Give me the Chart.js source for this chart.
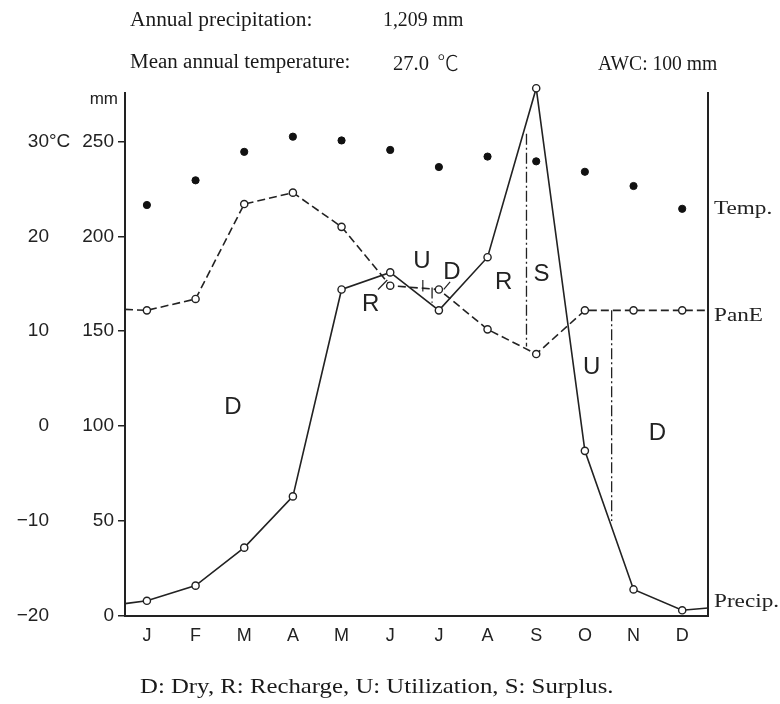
<!DOCTYPE html>
<html>
<head>
<meta charset="utf-8">
<script src="https://cdn.jsdelivr.net/npm/chart.js@4.4.1/dist/chart.umd.min.js"></script>
<style>
    html, body { margin: 0; padding: 0; background: #fff; }
    #wrap { position: relative; width: 780px; height: 704px; overflow: hidden; }
    #chart { position: absolute; left: 0; top: 0; }
    .note {
        position: absolute;
        font-family: "Liberation Serif", "Times New Roman", serif;
        font-size: 20px;
        line-height: 23px;
        color: #1a1a1a;
        white-space: nowrap;
        transform-origin: left center;
        transform: scaleX(1.03);
    }
    .cjk { font-family: "Noto Sans CJK JP", sans-serif; font-size: 21px; line-height: 23px; margin-left: 8px; font-weight: 300; }
    .foot { font-size: 21px; transform: scaleX(1.18); }
</style>
</head>
<body>
<div id="wrap">
    <canvas id="chart" width="780" height="704"></canvas>
    <div class="note" style="left:130px; top:8px; transform:scaleX(1.07);">Annual precipitation:</div>
    <div class="note" style="left:383px; top:8px; transform:scaleX(0.99);">1,209 mm</div>
    <div class="note" style="left:130px; top:50px; transform:scaleX(1.05);">Mean annual temperature:</div>
    <div class="note" style="left:393px; top:50px;">27.0<span class="cjk">℃</span></div>
    <div class="note" style="left:598px; top:52px; transform:scaleX(0.98);">AWC: 100 mm</div>
    <div class="note foot" style="left:140px; top:675px;">D: Dry, R: Recharge, U: Utilization, S: Surplus.</div>
</div>
<script>
const months = ['J', 'F', 'M', 'A', 'M', 'J', 'J', 'A', 'S', 'O', 'N', 'D'];
const precip = [8, 16, 36, 63, 172, 181, 161, 189, 278, 87, 14, 3];      // mm
const panE = [161, 167, 217, 223, 205, 174, 172, 151, 138, 161, 161, 161]; // mm
const temp = [23.3, 25.9, 28.9, 30.5, 30.1, 29.1, 27.3, 28.4, 27.9, 26.8, 25.3, 22.9]; // °C
// where the two lines meet the left / right frame
const precipEdge = [6.5, 4.2];
const panEEdge = [161.5, 161];
const mmTicks = [0, 50, 100, 150, 200, 250];
const tempTicks = [-20, -10, 0, 10, 20, 30];
// dash-dot dividers: month position, top (mm), bottom (mm)
const dividers = [[5.86, 173, 165], [7.8, 254, 142], [9.55, 161, 50]];
// zone letters: letter, month position, mm
const zones = [['D', 1.77, 110], ['R', 4.6, 164], ['U', 5.65, 187], ['D', 6.27, 181],
               ['R', 7.33, 176], ['S', 8.11, 180], ['U', 9.14, 131], ['D', 10.49, 96]];
// little leader strokes from letters to their zones: x1, mm1, x2, mm2
const leaders = [[4.75, 172, 4.94, 177], [5.67, 177, 5.67, 171], [6.23, 176, 6.1, 172]];
// labels on the right of the frame: text, axis, value
const sideLabels = [['Temp.', 'yT', 22.9], ['PanE', 'y', 158], ['Precip.', 'y', 7.5]];

const xMin = -0.45, xMax = 11.53;
const mmMax = 275.5;
const ink = '#222';

function withEdges(vals, edge) {
    return [{ x: xMin, y: edge[0] }, ...vals.map((v, i) => ({ x: i, y: v })), { x: xMax, y: edge[1] }];
}
// no marker on the two frame points
const edgeRadius = ctx => (ctx.dataIndex === 0 || ctx.dataIndex === ctx.dataset.data.length - 1) ? 0 : 3.6;

const datasets = [
    {
        label: 'Precip.',
        data: withEdges(precip, precipEdge),
        yAxisID: 'y',
        clip: false,
        borderColor: ink, borderWidth: 1.6,
        pointRadius: edgeRadius, pointBackgroundColor: '#fff', pointBorderColor: ink, pointBorderWidth: 1.4
    },
    {
        label: 'PanE',
        data: withEdges(panE, panEEdge),
        yAxisID: 'y',
        borderColor: ink, borderWidth: 1.6, borderDash: [8, 4],
        pointRadius: edgeRadius, pointBackgroundColor: '#fff', pointBorderColor: ink, pointBorderWidth: 1.4
    },
    {
        label: 'Temp.',
        data: temp.map((v, i) => ({ x: i, y: v })),
        yAxisID: 'yT',
        showLine: false,
        pointRadius: 3.6, pointBackgroundColor: '#111', pointBorderColor: '#111'
    }
];
dividers.forEach(d => {
    datasets.push({
        label: 'divider',
        data: [{ x: d[0], y: d[1] }, { x: d[0], y: d[2] }],
        yAxisID: 'y',
        borderColor: ink, borderWidth: 1.3, borderDash: [11, 3, 2, 3],
        pointRadius: 0
    });
});

const notesPlugin = {
    id: 'notes',
    afterDraw(chart) {
        const { ctx, chartArea, scales } = chart;
        const x = scales.x, y = scales.y, yT = scales.yT;
        ctx.save();
        ctx.fillStyle = ink;
        ctx.textBaseline = 'middle';

        // unit labels on the left
        ctx.font = '17px "Liberation Sans", Arial, sans-serif';
        ctx.textAlign = 'right';
        ctx.fillText('mm', chartArea.left - 7, chartArea.top + 6);
        ctx.font = '19px "Liberation Sans", Arial, sans-serif';
        ctx.textAlign = 'left';
        ctx.fillText('°C', yT.right - 6, yT.getPixelForValue(30));

        // zone letters
        ctx.font = '24px "Liberation Sans", Arial, sans-serif';
        ctx.textAlign = 'center';
        zones.forEach(z => ctx.fillText(z[0], x.getPixelForValue(z[1]), y.getPixelForValue(z[2])));

        ctx.strokeStyle = ink;
        ctx.lineWidth = 1.2;
        leaders.forEach(l => {
            ctx.beginPath();
            ctx.moveTo(x.getPixelForValue(l[0]), y.getPixelForValue(l[1]));
            ctx.lineTo(x.getPixelForValue(l[2]), y.getPixelForValue(l[3]));
            ctx.stroke();
        });

        // series names right of the frame
        ctx.font = '19px "Liberation Serif", "Times New Roman", serif';
        ctx.textAlign = 'left';
        sideLabels.forEach(s => {
            const py = scales[s[1]].getPixelForValue(s[2]);
            ctx.save();
            ctx.translate(chartArea.right + 6, py);
            ctx.scale(1.22, 1);
            ctx.fillText(s[0], 0, 0);
            ctx.restore();
        });
        ctx.restore();
    }
};

const tickFont = { family: '"Liberation Sans", Arial, sans-serif', size: 19 };
const minus = v => String(v).replace('-', '\u2212');

new Chart(document.getElementById('chart'), {
    type: 'line',
    data: { datasets: datasets },
    options: {
        responsive: false,
        animation: false,
        layout: { padding: { top: 93, right: 72, bottom: 0, left: 0 } },
        plugins: { legend: { display: false }, tooltip: { enabled: false } },
        scales: {
            x: {
                type: 'linear', min: xMin, max: xMax,
                afterBuildTicks: s => { s.ticks = months.map((m, i) => ({ value: i })); },
                ticks: { callback: v => months[v], font: { ...tickFont, size: 18 }, color: ink, padding: 9, autoSkip: false, maxRotation: 0 },
                grid: { display: false, drawTicks: false },
                border: { color: ink, width: 2 },
                afterFit: s => { s.height = 88; }
            },
            y: {
                position: 'left', weight: 0, min: 0, max: mmMax,
                afterBuildTicks: s => { s.ticks = mmTicks.map(v => ({ value: v })); },
                ticks: { font: tickFont, color: ink, padding: 4 },
                grid: { drawOnChartArea: false, tickLength: 7, color: ink, lineWidth: 1.5 },
                border: { color: ink, width: 2 },
                afterFit: s => { s.width = 70; }
            },
            yT: {
                position: 'left', weight: 1, min: -20, max: -20 + mmMax / 5,
                afterBuildTicks: s => { s.ticks = tempTicks.map(v => ({ value: v })); },
                ticks: { callback: minus, font: tickFont, color: ink, padding: 6 },
                grid: { display: false, drawTicks: false },
                border: { display: false },
                afterFit: s => { s.width = 55; }
            },
            yR: {
                position: 'right', min: 0, max: 1,
                ticks: { display: false },
                grid: { display: false, drawTicks: false },
                border: { color: ink, width: 2 },
                afterFit: s => { s.width = 0; }
            }
        }
    },
    plugins: [notesPlugin]
});
</script>
</body>
</html>
